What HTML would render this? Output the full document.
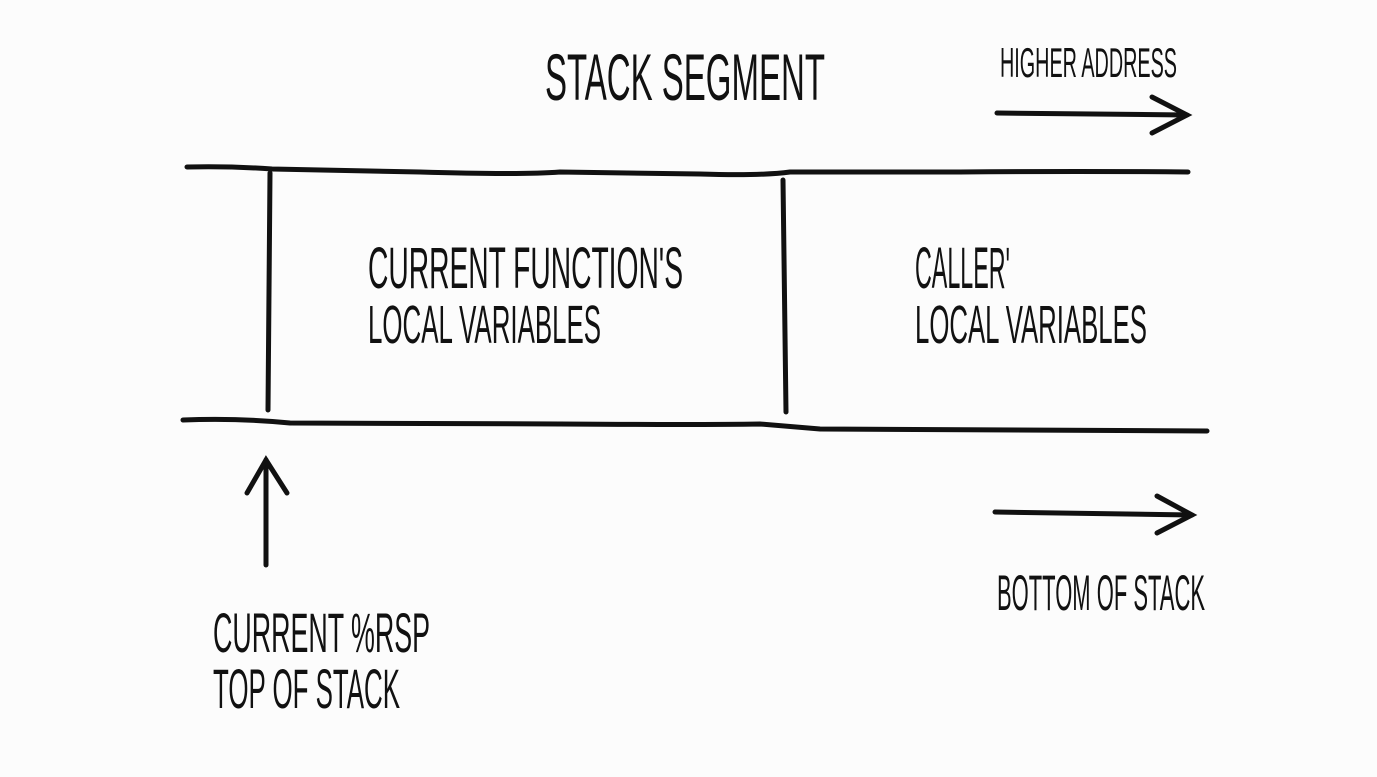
<!DOCTYPE html>
<html><head><meta charset="utf-8"><style>
html,body{margin:0;padding:0;background:#fcfcfc;}
svg{display:block;}
text{font-family:"Liberation Sans",sans-serif;fill:#111;}
</style></head><body>
<svg width="1377" height="777" viewBox="0 0 1377 777" xmlns="http://www.w3.org/2000/svg">
<rect width="1377" height="777" fill="#fcfcfc"/>
<g stroke="#111" stroke-width="5" stroke-linecap="round" fill="none">
<path d="M187 167 Q230 166 272 169 L420 172 Q520 175 560 172 L700 174 Q760 176 790 172 L960 172 Q1080 171 1188 172"/>
<path d="M183 420 Q240 418 290 423 L560 424 Q700 425 760 424 L820 429 Q1000 430 1207 431"/>
<path d="M270 173 Q269 290 268 410"/>
<path d="M783 180 Q785 300 786 412"/>
<path d="M997 113 L1187 115"/>
<path d="M1152 97 L1187 115 L1152 133"/>
<path d="M995 512 L1192 515"/>
<path d="M1157 496 L1192 515 L1157 533"/>
<path d="M266 565 L266 460"/>
<path d="M247 493 L266 460 L287 493"/>
</g>
<text x="545" y="100" font-size="66" textLength="280" lengthAdjust="spacingAndGlyphs">STACK SEGMENT</text>
<text x="1000" y="77" font-size="42" textLength="177" lengthAdjust="spacingAndGlyphs">HIGHER ADDRESS</text>
<text x="368" y="288" font-size="58" textLength="315" lengthAdjust="spacingAndGlyphs">CURRENT FUNCTION'S</text>
<text x="368" y="343" font-size="54" textLength="233" lengthAdjust="spacingAndGlyphs">LOCAL VARIABLES</text>
<text x="915" y="288" font-size="58" textLength="95" lengthAdjust="spacingAndGlyphs">CALLER'</text>
<text x="915" y="343" font-size="54" textLength="232" lengthAdjust="spacingAndGlyphs">LOCAL VARIABLES</text>
<text x="997" y="610" font-size="50" textLength="208" lengthAdjust="spacingAndGlyphs">BOTTOM OF STACK</text>
<text x="213" y="652" font-size="56" textLength="217" lengthAdjust="spacingAndGlyphs">CURRENT %RSP</text>
<text x="213" y="708" font-size="56" textLength="187" lengthAdjust="spacingAndGlyphs">TOP OF STACK</text>
</svg>
</body></html>
